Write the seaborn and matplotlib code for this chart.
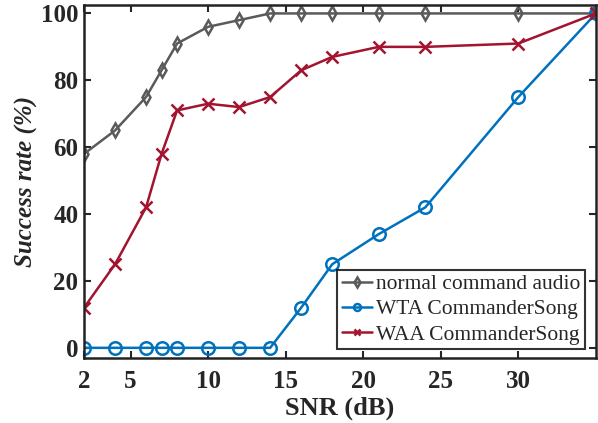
import matplotlib
matplotlib.use("Agg")
import matplotlib.pyplot as plt
import seaborn as sns

snr = [2, 4, 6, 7, 8, 10, 12, 14, 16, 18, 21, 24, 30, 35]
normal = [58, 65, 75, 83, 91, 96, 98, 100, 100, 100, 100, 100, 100, 100]
wta = [0, 0, 0, 0, 0, 0, 0, 0, 12, 25, 34, 42, 75, 100]
waa = [12, 25, 42, 58, 71, 73, 72, 75, 83, 87, 90, 90, 91, 100]
series_names = ["normal command audio", "WTA CommanderSong", "WAA CommanderSong"]
xticks = [2, 5, 10, 15, 20, 25, 30]
yticks = [0, 20, 40, 60, 80, 100]

sns.set_style("ticks")
plt.rcParams["font.family"] = ["Liberation Serif", "DejaVu Serif"]

fig = plt.figure(figsize=(5.98, 4.23), dpi=100)
ax = fig.add_axes([0.1405, 0.154, 0.856, 0.834])

colors = ["#5a5a5a", "#0072BD", "#A2142F"]
marks = ["d", "o", "x"]
sizes = [7, 9, 8]
for vals, name, c, m, ms in zip([normal, wta, waa], series_names, colors, marks, sizes):
    sns.lineplot(x=snr, y=vals, color=c, marker=m, markersize=ms,
                 markerfacecolor="none", markeredgecolor=c, markeredgewidth=1.8,
                 linewidth=1.8, label=name, ax=ax)

ax.set_xlim(2, 35)
ax.set_ylim(-3, 102.5)
ax.set_xticks(xticks)
ax.set_yticks(yticks)
ax.tick_params(direction="in", length=5, width=1.5, top=True, right=True,
               labelsize=18)
ax.tick_params(axis="y", pad=4)
ax.tick_params(axis="x", pad=9)
for lab in ax.get_xticklabels() + ax.get_yticklabels():
    lab.set_fontweight("bold")
for s in ax.spines.values():
    s.set_linewidth(1.8)
    s.set_color("#222222")

ax.set_xlabel("SNR (dB)", fontsize=19, fontweight="bold", labelpad=2)
ax.set_ylabel("Success rate (%)", fontsize=18, fontweight="bold", style="italic", labelpad=2)

leg = ax.legend(loc="lower right", fontsize=15.5, frameon=True, fancybox=False,
                borderpad=0.2, handlelength=1.4, handletextpad=0.2, labelspacing=0.25,
                borderaxespad=0.4, bbox_to_anchor=(0.995, 0.0))
leg.get_frame().set_edgecolor("black")
leg.get_frame().set_linewidth(1.5)
for h in leg.legend_handles:
    h.set_markersize(5)

fig.savefig("out.png", dpi=100)
